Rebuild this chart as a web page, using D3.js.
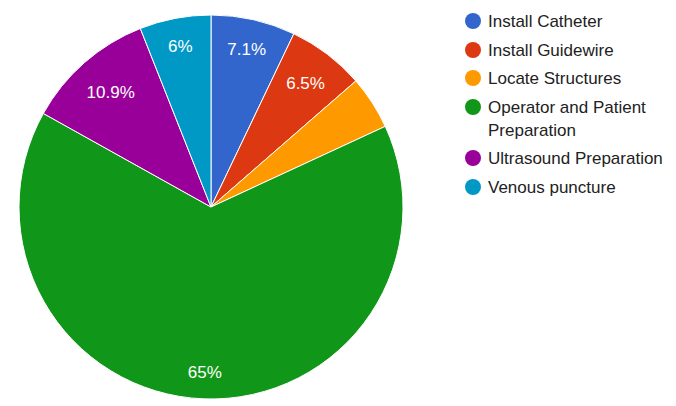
<!DOCTYPE html>
<html>
<head>
<meta charset="utf-8">
<script src="https://cdn.jsdelivr.net/npm/d3@7"></script>
<style>
  body { margin: 0; background: #fff; }
  svg { display: block; font-family: "Liberation Sans", Arial, sans-serif; }
</style>
</head>
<body>
<div id="chart"></div>
<script>
const categories = ["Install Catheter", "Install Guidewire", "Locate Structures",
  "Operator and Patient Preparation", "Ultrasound Preparation", "Venous puncture"];
const values = [7.1, 6.5, 4.5, 65, 10.9, 6];
const labels = ["7.1%", "6.5%", "", "65%", "10.9%", "6%"];
const colors = ["#3366cc", "#dc3912", "#ff9900", "#109618", "#990099", "#0099c6"];
const legendLines = [["Install Catheter"], ["Install Guidewire"], ["Locate Structures"],
  ["Operator and Patient", "Preparation"], ["Ultrasound Preparation"], ["Venous puncture"]];

const width = 676, height = 406;
const cx = 211, cy = 207, radius = 192;
const labelReach = 175; // outer corner of label box sits on this radius
const fontSize = 17;

const svg = d3.select("#chart").append("svg")
  .attr("width", width)
  .attr("height", height);

const pie = d3.pie().sort(null).value((d) => d);
const arcs = pie(values);
const arc = d3.arc().innerRadius(0).outerRadius(radius);

const g = svg.append("g").attr("transform", "translate(" + cx + "," + cy + ")");

g.selectAll("path")
  .data(arcs)
  .enter()
  .append("path")
  .attr("d", arc)
  .attr("fill", (d, i) => colors[i])
  .attr("stroke", "#fff")
  .attr("stroke-width", 1);

// place each label along the mid angle, pushed out until its box corner hits labelReach
function labelPos(d, w, h) {
  const a = (d.startAngle + d.endAngle) / 2;
  const sx = Math.sin(a), sy = -Math.cos(a);
  let lo = 0, hi = labelReach;
  for (let k = 0; k < 40; k++) {
    const t = (lo + hi) / 2;
    const px = t * sx + Math.sign(sx) * w / 2;
    const py = t * sy + Math.sign(sy) * h / 2;
    if (Math.hypot(px, py) > labelReach) hi = t; else lo = t;
  }
  return [lo * sx, lo * sy];
}

g.selectAll("text.lbl")
  .data(arcs)
  .enter()
  .append("text")
  .attr("class", "lbl")
  .attr("text-anchor", "middle")
  .attr("dy", "0.35em")
  .attr("fill", "#fff")
  .style("font-size", fontSize + "px")
  .text((d, i) => labels[i])
  .each(function (d) {
    const w = this.getComputedTextLength();
    const p = labelPos(d, w, fontSize);
    d3.select(this).attr("x", p[0]).attr("y", p[1]);
  });

// legend
const legend = svg.append("g").attr("id", "legend");
const rowY = [21, 50, 78, 107, 158, 187];

categories.forEach((c, i) => {
  const row = legend.append("g").attr("transform", "translate(0," + rowY[i] + ")");
  row.append("circle")
    .attr("cx", 473)
    .attr("cy", 0)
    .attr("r", 8)
    .attr("fill", colors[i]);
  const t = row.append("text")
    .attr("y", 0)
    .attr("fill", "#222")
    .style("font-size", fontSize + "px");
  legendLines[i].forEach((line, j) => {
    t.append("tspan")
      .attr("x", 488)
      .attr("dy", j === 0 ? "0.35em" : "23")
      .text(line);
  });
});
</script>
</body>
</html>
